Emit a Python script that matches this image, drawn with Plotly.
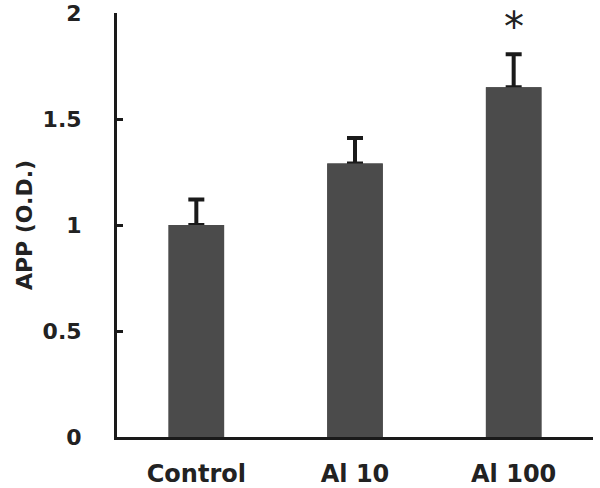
import plotly.graph_objects as go

# values
groups = ["Control", "Al 10", "Al 100"]
app_od = [1.0, 1.29, 1.65]
app_err = [0.12, 0.12, 0.155]
y_ticks = [0, 0.5, 1, 1.5, 2]
y_tick_text = ["0", "0.5", "1", "1.5", "2"]
signif = ["", "", "*"]

font_family = "DejaVu Sans"
bar_color = "#4b4b4b"

fig = go.Figure()
# first trace carries the upward error bars
fig.add_trace(go.Bar(
    x=groups,
    y=app_od,
    marker=dict(color=bar_color, line=dict(width=0)),
    error_y=dict(type="data", array=app_err, arrayminus=[0] * len(app_err),
                 symmetric=False, color="#1a1a1a", thickness=4, width=8),
    showlegend=False,
))
# same bars again on top so only the upper half of each error bar shows
fig.add_trace(go.Bar(
    x=groups,
    y=app_od,
    marker=dict(color=bar_color, line=dict(width=0)),
    showlegend=False,
))

# significance marks above the error bars
for g, v, e, s in zip(groups, app_od, app_err, signif):
    if s:
        fig.add_annotation(x=g, y=v + e, yshift=2, text=s, showarrow=False,
                           yanchor="bottom",
                           font=dict(family=font_family, size=40, color="#222"))

fig.update_layout(
    width=600, height=488,
    margin=dict(l=117, r=7, t=13, b=51),
    plot_bgcolor="white", paper_bgcolor="white",
    barmode="overlay",
    bargap=0.65,
    font=dict(family=font_family, size=22, color="#222"),
)
fig.update_xaxes(
    range=[-0.5, 2.5], automargin=False,
    showline=True, linecolor="#1a1a1a", linewidth=3,
    ticks="", showgrid=False, zeroline=False,
    tickfont=dict(family=font_family, size=24, weight="bold"),
    ticklabelstandoff=13,
)
fig.update_yaxes(
    range=[0, 2], automargin=False,
    tickvals=y_ticks, ticktext=y_tick_text,
    showline=True, linecolor="#1a1a1a", linewidth=3,
    ticks="inside", ticklen=6, tickwidth=3, tickcolor="#1a1a1a",
    showgrid=False, zeroline=False,
    tickfont=dict(family=font_family, size=22, weight="bold"),
    ticklabelstandoff=28, ticklabeloverflow="allow",
    title=dict(text="APP (O.D.)", standoff=4,
               font=dict(family=font_family, size=22, weight="bold")),
)

# drop the default 8px body margin so the figure fills the window exactly
fig.write_html("out.html", config={"displayModeBar": False},
               post_script="document.body.style.margin = '0';")
